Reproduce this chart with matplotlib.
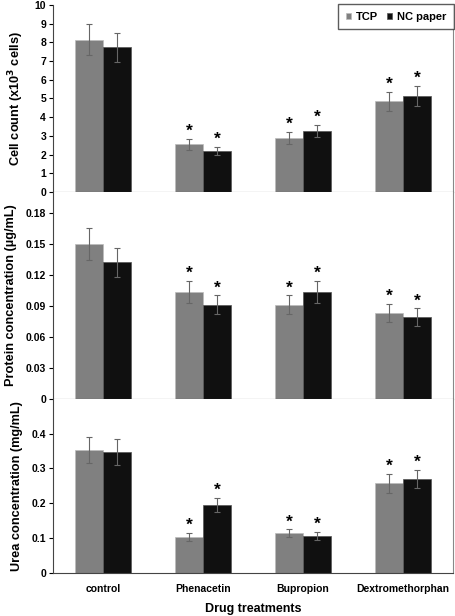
import matplotlib.pyplot as plt
import numpy as np

plt.rcParams['font.family'] = ['Liberation Sans', 'DejaVu Sans']
plt.rcParams['font.weight'] = 'bold'

drugs = ['control', 'Phenacetin', 'Bupropion', 'Dextromethorphan']

# cell count (x10^3 cells)
cell_tcp = [8.13, 2.56, 2.90, 4.86]
cell_tcp_err = [0.83, 0.29, 0.32, 0.51]
cell_nc = [7.74, 2.19, 3.28, 5.14]
cell_nc_err = [0.78, 0.23, 0.32, 0.54]

# protein (ug/mL)
prot_tcp = [0.150, 0.103, 0.091, 0.083]
prot_tcp_err = [0.0156, 0.0106, 0.009, 0.0087]
prot_nc = [0.132, 0.091, 0.103, 0.079]
prot_nc_err = [0.014, 0.009, 0.0106, 0.0084]

# urea (mg/mL)
urea_tcp = [0.354, 0.104, 0.115, 0.257]
urea_tcp_err = [0.037, 0.011, 0.011, 0.027]
urea_nc = [0.347, 0.195, 0.107, 0.270]
urea_nc_err = [0.037, 0.021, 0.012, 0.027]

# significance flags (control not significant)
signif = [False, True, True, True]

TCP_COLOR = '#808080'
NC_COLOR = '#101010'
W = 0.28

fig = plt.figure(figsize=(4.55, 6.16), dpi=100)
left, width = 0.1165, 0.879
ax1 = fig.add_axes([left, 0.6883, width, 0.9919 - 0.6883])
ax2 = fig.add_axes([left, 0.353, width, 0.6883 - 0.353])
ax3 = fig.add_axes([left, 0.0693, width, 0.353 - 0.0693])

panels = [
    (ax1, cell_tcp, cell_tcp_err, cell_nc, cell_nc_err, 10, np.arange(0, 11, 1),
     'Cell count (x10$^\\mathbf{3}$ cells)', '{:.0f}'),
    (ax2, prot_tcp, prot_tcp_err, prot_nc, prot_nc_err, 0.2, np.arange(0, 0.19, 0.03),
     'Protein concentration (µg/mL)', '{:g}'),
    (ax3, urea_tcp, urea_tcp_err, urea_nc, urea_nc_err, 0.5, np.arange(0, 0.41, 0.1),
     'Urea concentration (mg/mL)', '{:g}'),
]

x = np.arange(len(drugs))
for ax, tcp, tcp_e, nc, nc_e, ymax, ticks, ylab, fmt in panels:
    ax.bar(x - W / 2, tcp, W, color=TCP_COLOR, edgecolor='#bbbbbb', linewidth=0.5, label='TCP')
    ax.bar(x + W / 2, nc, W, color=NC_COLOR, edgecolor='#555555', linewidth=0.5, label='NC paper')
    ax.errorbar(x - W / 2, tcp, yerr=tcp_e, fmt='none', ecolor='#666666', elinewidth=0.8, capsize=2, capthick=0.8)
    ax.errorbar(x + W / 2, nc, yerr=nc_e, fmt='none', ecolor='#666666', elinewidth=0.8, capsize=2, capthick=0.8)
    for i in range(len(drugs)):
        if signif[i]:
            ax.text(x[i] - W / 2, tcp[i] + tcp_e[i], '*', ha='center', va='bottom', fontsize=12.5, fontweight='bold')
            ax.text(x[i] + W / 2, nc[i] + nc_e[i], '*', ha='center', va='bottom', fontsize=12.5, fontweight='bold')
    ax.set_xlim(-0.5, 3.5)
    ax.set_ylim(0, ymax)
    ax.set_yticks(ticks)
    ax.set_yticklabels([fmt.format(t) for t in ticks], fontsize=7.5, fontweight='bold')
    ax.set_ylabel(ylab, fontsize=9.2, fontweight='bold', labelpad=6)
    ax.spines['top'].set_visible(False)
    ax.spines['right'].set_color('#888888')
    ax.spines['left'].set_color('#444444')
    ax.spines['bottom'].set_color('#444444')
    ax.tick_params(axis='y', length=3, width=0.8, pad=2)
    ax.tick_params(axis='x', length=0)
    ax.set_xticks(x)
    ax.set_xticklabels([])

ax3.set_xticklabels(drugs, fontsize=7.5, fontweight='bold')
ax3.tick_params(axis='x', pad=8)
ax3.set_xlabel('Drug treatments', fontsize=9, fontweight='bold', labelpad=6)

leg = ax1.legend(loc='upper right', ncol=2, prop={'weight': 'bold', 'size': 8},
                 handlelength=0.5, handleheight=0.5, handletextpad=0.4, columnspacing=0.8,
                 fancybox=False, edgecolor='#333333', borderaxespad=-0.1, borderpad=0.7)
leg.get_frame().set_linewidth(1.0)

fig.savefig('out.png', dpi=100)
